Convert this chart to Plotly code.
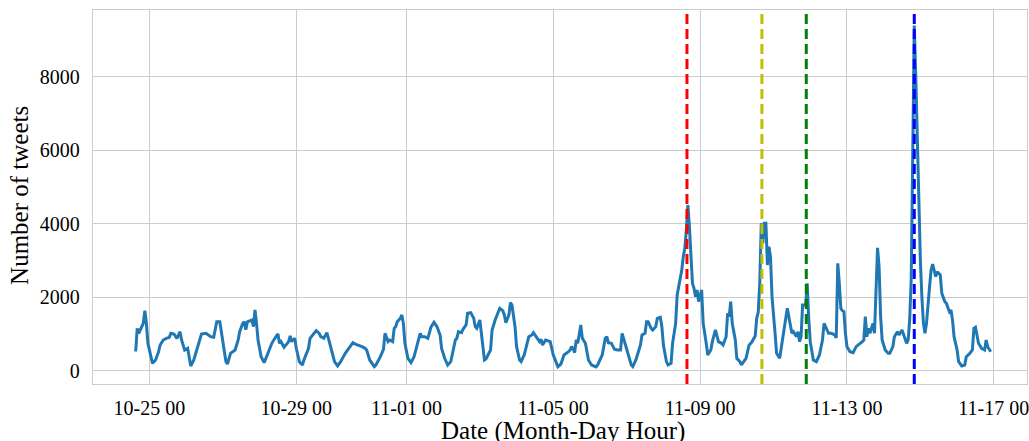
import pandas as pd
import plotly.graph_objects as go

# hours offset from 2016-10-25 00:00 and tweet counts
hours = [-9, -8, -7, -6, -4, -3, -2, -1, 1, 2, 4, 6, 7, 9, 11, 13, 14, 16, 18, 20, 21, 23, 25, 27, 29,
         32, 34, 37, 40, 42, 44, 46, 47, 48, 50, 51, 53, 56, 58, 59, 61, 62, 63, 64, 67, 68, 69, 70, 71,
         73, 75, 77, 80, 82, 84, 85, 86, 88, 89, 91, 92, 93, 95, 96, 98, 100, 101, 104, 105, 107, 109,
         111, 112, 114, 116, 117, 119, 121, 123, 125, 128, 131, 133, 135, 137, 139, 141, 142, 144, 147,
         148, 151, 153, 154, 156, 157, 159, 160, 161, 162, 164, 165, 166, 167, 169, 171, 173, 175, 177,
         178, 180, 182, 184, 186, 188, 190, 191, 193, 195, 197, 198, 200, 201, 202, 204, 205, 207, 208,
         210, 212, 213, 214, 216, 217, 218, 219, 220, 223, 224, 226, 229, 231, 232, 233, 235, 236, 237,
         239, 240, 242, 243, 245, 248, 250, 251, 253, 255, 256, 257, 259, 261, 262, 264, 266, 267, 269,
         271, 274, 275, 276, 277, 278, 279, 280, 282, 283, 285, 287, 289, 292, 293, 296, 298, 299, 300,
         302, 304, 306, 308, 309, 310, 311, 313, 315, 316, 318, 320, 321, 322, 324, 325, 326, 328, 329,
         331, 332, 334, 335, 336, 338, 339, 341, 342, 344, 345, 347, 348, 349, 350, 351, 352, 353, 354,
         355, 356, 357, 358, 359, 361, 362, 364, 365, 367, 368, 370, 372, 374, 375, 377, 378, 379, 380,
         381, 383, 384, 386, 387, 390, 392, 394, 396, 397, 398, 399, 400, 401, 402, 403, 404, 405, 406,
         407, 409, 410, 412, 414, 417, 418, 419, 420, 421, 423, 424, 425, 426, 427, 429, 430, 431, 432,
         434, 436, 438, 440, 441, 443, 444, 446, 448, 449, 450, 451, 452, 453, 454, 455, 456, 458, 460,
         462, 465, 466, 467, 468, 469, 470, 471, 473, 474, 475, 476, 477, 478, 479, 481, 483, 484, 486,
         487, 489, 490, 492, 493, 494, 495, 496, 497, 498, 499, 500, 501, 502, 503, 504, 505, 506, 507,
         508, 510, 511, 512, 513, 514, 515, 516, 517, 518, 520, 521, 522, 523, 524, 525, 526, 528, 529,
         531, 533, 534, 536, 537, 538, 539, 540, 542, 544, 546, 547, 548, 549, 550]

tweets = [530, 1160, 1025, 1134, 1300, 1640, 1300, 750, 345, 208, 300, 526, 707, 843, 889, 916, 1025,
          1007, 889, 1070, 843, 571, 617, 136, 300, 753, 1007, 1025, 934, 916, 1342, 1342, 1100, 843,
          254, 190, 480, 571, 843, 1070, 1300, 1340, 1120, 1340, 1388, 1206, 1660, 1297, 843, 390, 227,
          435, 753, 889, 1007, 753, 800, 644, 707, 800, 952, 800, 889, 617, 254, 163, 300, 617, 889,
          980, 1097, 1025, 934, 889, 1043, 889, 526, 254, 136, 254, 480, 662, 771, 726, 700, 662, 617,
          571, 300, 118, 163, 390, 590, 1025, 800, 843, 800, 1161, 1206, 1342, 1433, 1524, 1297, 753,
          345, 227, 390, 753, 1025, 934, 934, 889, 1188, 1324, 1206, 980, 617, 345, 163, 254, 480, 843,
          889, 1070, 1043, 1134, 1252, 1570, 1588, 1433, 1206, 1161, 1388, 1025, 571, 300, 327, 571,
          1116, 1388, 1705, 1642, 1524, 1315, 1524, 1859, 1796, 1206, 662, 300, 254, 435, 934, 980,
          1043, 934, 800, 861, 707, 843, 825, 800, 435, 190, 118, 190, 435, 526, 571, 662, 600, 500,
          844, 753, 1252, 889, 753, 299, 163, 110, 163, 435, 889, 934, 771, 753, 590, 571, 571, 1025,
          889, 707, 435, 163, 118, 299, 571, 707, 980, 1025, 1342, 1342, 1161, 1116, 1206, 1433, 1460,
          1206, 707, 254, 163, 209, 753, 1297, 2068, 2476, 2748, 3111, 3338, 3837, 4517, 3927, 3111,
          2385, 2249, 2023, 2204, 1887, 2204, 1297, 753, 435, 571, 798, 1116, 798, 753, 707, 934, 1569,
          1478, 1887, 1297, 843, 345, 254, 163, 345, 700, 800, 950, 1433, 1600, 2385, 4018, 3474, 4018,
          4018, 2884, 3383, 3111, 2023, 1025, 481, 345, 934, 1705, 1478, 1206, 1025, 1070, 934, 1070,
          798, 934, 1796, 1796, 2385, 1433, 798, 299, 254, 435, 843, 1297, 1116, 1025, 1025, 980, 900,
          2930, 2385, 1700, 1640, 1615, 1025, 662, 526, 499, 662, 753, 798, 843, 1478, 934, 1161, 1025,
          1297, 1025, 2023, 3350, 2839, 1478, 843, 571, 481, 481, 662, 934, 1070, 980, 1116, 980, 843,
          753, 843, 1388, 2500, 5500, 9400, 8000, 6200, 4300, 3000, 2000, 1300, 1025,
          1297, 2295, 2748, 2911, 2750, 2567, 2703, 2657, 2612, 2113, 1887, 1840, 1750, 1614, 1660, 1388,
          934, 571, 254, 136, 163, 390, 463, 526, 571, 1161, 1188, 753, 617, 571, 843, 662, 571, 526]

# event markers (hours offset from 2016-10-25 00:00) and their colours
event_hours = [351.4, 400.4, 429.4, 500.0]
event_colors = ["#ff0000", "#bfbf00", "#008000", "#0000ff"]

tick_dates = ["2016-10-25", "2016-10-29", "2016-11-01", "2016-11-05",
              "2016-11-09", "2016-11-13", "2016-11-17"]
tick_labels = ["10-25 00", "10-29 00", "11-01 00", "11-05 00",
               "11-09 00", "11-13 00", "11-17 00"]
y_ticks = [0, 2000, 4000, 6000, 8000]

base = pd.Timestamp("2016-10-25 00:00")
times = base + pd.to_timedelta(hours, unit="h")
event_times = base + pd.to_timedelta(event_hours, unit="h")

FONT = "Liberation Serif, Times New Roman, serif"
GRID = "#cccccc"

fig = go.Figure()
fig.add_trace(go.Scatter(x=times, y=tweets, mode="lines",
                         line=dict(color="#1f77b4", width=3), showlegend=False,
                         hoverinfo="skip"))

for t, c in zip(event_times, event_colors):
    fig.add_shape(type="line", xref="x", yref="paper", x0=t, x1=t, y0=0, y1=1,
                  line=dict(color=c, width=3, dash="10px,5px"), layer="above")

x_range = [base + pd.Timedelta(hours=-36.9), base + pd.Timedelta(hours=573.7)]

fig.update_layout(
    width=1029, height=441,
    margin=dict(l=93, r=0, t=10, b=57),
    plot_bgcolor="white", paper_bgcolor="white",
    font=dict(family=FONT, color="black", size=20),
    xaxis=dict(range=x_range, tickvals=pd.to_datetime(tick_dates), ticktext=tick_labels,
               showgrid=True, gridcolor=GRID, gridwidth=1.3, zeroline=False,
               showline=True, linecolor=GRID, linewidth=1.3, mirror=True,
               ticks="", tickfont=dict(size=20, family=FONT), ticklabelstandoff=6,
               ticklabeloverflow="allow"),
    yaxis=dict(range=[-354, 9823], tickvals=y_ticks, ticktext=[str(v) for v in y_ticks],
               showgrid=True, gridcolor=GRID, gridwidth=1.3, zeroline=False,
               showline=True, linecolor=GRID, linewidth=1.3, mirror=True,
               ticks="", tickfont=dict(size=20, family=FONT), ticklabelstandoff=8),
    annotations=[
        dict(text="Date (Month-Day Hour)", xref="paper", yref="paper", x=0.5035, y=0,
             yshift=-47, xanchor="center", yanchor="middle", showarrow=False,
             font=dict(size=25, family=FONT)),
        dict(text="Number of tweets", xref="paper", yref="paper", x=0, y=0.503,
             xshift=-73, xanchor="center", yanchor="middle", textangle=-90, showarrow=False,
             font=dict(size=25, family=FONT)),
    ],
)

fig.write_html("out.html")
